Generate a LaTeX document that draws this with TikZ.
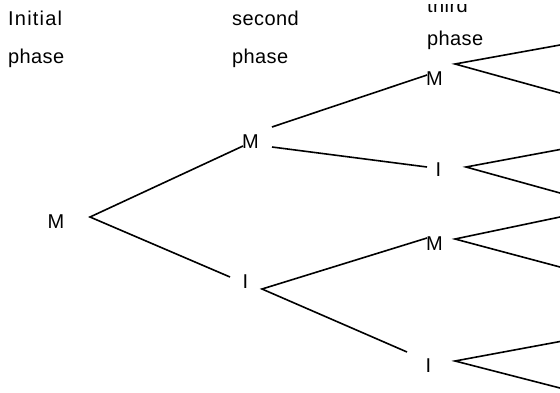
\documentclass[tikz,border=0pt]{standalone}
\usepackage{fontspec}
\setmainfont{Liberation Sans}[LetterSpace=2]
\begin{document}
\begin{tikzpicture}[x=1pt,y=-1pt]
\tikzset{
  lbl/.style={inner sep=0pt, anchor=base, font=\fontsize{20}{24}\selectfont},
  head/.style={lbl, anchor=base west},
  branch/.style={draw=black, line width=1.6pt, line cap=butt}
}
\useasboundingbox[fill=white] (0,0) rectangle (560,392);

% phase headings
\node[head] (h1a) at (8,25) {\addfontfeature{LetterSpace=6}Initial};
\node[head] (h1b) at (8,63) {phase};
\node[head] (h2a) at (232,25) {second};
\node[head] (h2b) at (232,63) {phase};
\begin{scope}
  \clip (400,4.5) rectangle (520,30);
  \node[head] (h3a) at (427,12.3) {third};
\end{scope}
\node[head] (h3b) at (427,45) {phase};

% outcome labels
\node[lbl] (m0) at (56,228.5) {M};
\node[lbl] (m1) at (250.5,148) {M};
\node[lbl] (i1) at (245.5,288.5) {I};
\node[lbl] (m2a) at (434.5,85) {M};
\node[lbl] (i2b) at (438.5,176.5) {I};
\node[lbl] (m2c) at (434.5,250) {M};
\node[lbl] (i2d) at (428.5,372) {I};

% branch points and branch ends
\coordinate (v0) at (90,217);
\coordinate (v1a) at (272,127);
\coordinate (v1b) at (272,147);
\coordinate (v1c) at (262,289);
\coordinate (v2a) at (455,64);
\coordinate (v2b) at (466,167);
\coordinate (v2c) at (455,239);
\coordinate (v2d) at (455,361);

\coordinate (e1a) at (243,146);
\coordinate (e1b) at (230,277);
\coordinate (e2a) at (427,75);
\coordinate (e2b) at (427,167);
\coordinate (e2c) at (427,238);
\coordinate (e2d) at (407,352);

\coordinate (l1) at (560,45);
\coordinate (l2) at (560,93);
\coordinate (l3) at (560,149.5);
\coordinate (l4) at (560,193);
\coordinate (l5) at (560,217);
\coordinate (l6) at (560,267);
\coordinate (l7) at (560,341.5);
\coordinate (l8) at (560,388);

% first stage
\path[branch] (e1a) -- (v0) -- (e1b);
% second stage
\path[branch] (v1a) -- (e2a);
\path[branch] (v1b) -- (e2b);
\path[branch] (e2c) -- (v1c) -- (e2d);
% third stage
\path[branch] (l1) -- (v2a) -- (l2);
\path[branch] (l3) -- (v2b) -- (l4);
\path[branch] (l5) -- (v2c) -- (l6);
\path[branch] (l7) -- (v2d) -- (l8);
\end{tikzpicture}
\end{document}
